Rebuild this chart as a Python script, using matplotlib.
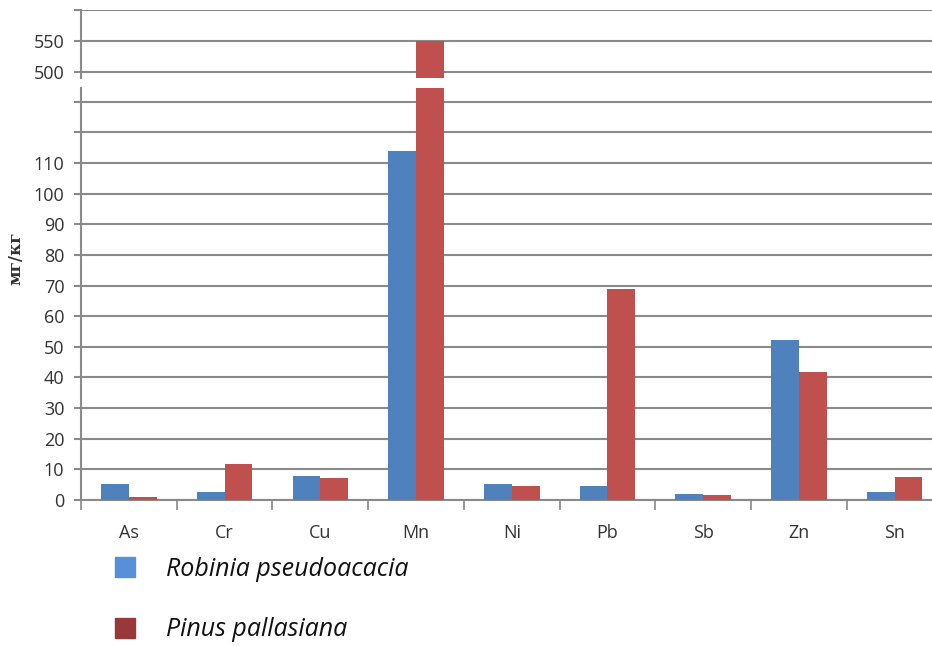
import numpy as np
import matplotlib.pyplot as plt
from matplotlib.patches import Rectangle

elements = ['As', 'Cr', 'Cu', 'Mn', 'Ni', 'Pb', 'Sb', 'Zn', 'Sn']
robinia = [5.2, 2.6, 7.8, 114, 5.2, 4.6, 2.0, 52.2, 2.6]
pinus = [1.0, 11.7, 7.2, 550, 4.6, 69, 1.5, 41.8, 7.5]
series_names = ['Robinia pseudoacacia', 'Pinus pallasiana']

plt.rcParams['font.family'] = ['Open Sans', 'DejaVu Sans']

grid_c = '#8a8a8a'
txt_c = '#333333'
blue = '#4F81BD'
red = '#C0504D'

fig = plt.figure(figsize=(9.32, 6.46), dpi=100)
W, H = 932, 646
left = 81 / W
ax_top = fig.add_axes([left, 1 - 78 / H, 1 - left, 68 / H])
ax = fig.add_axes([left, 1 - 500 / H, 1 - left, 412 / H])

x = np.arange(len(elements))
bw = 0.29
for a in (ax, ax_top):
    a.bar(x - bw / 2, robinia, bw, color=blue, zorder=3)
    a.bar(x + bw / 2, pinus, bw, color=red, zorder=3)
    for s in ['top', 'right']:
        a.spines[s].set_visible(False)
    a.spines['left'].set_color(grid_c)
    a.spines['left'].set_linewidth(1.5)
    a.grid(axis='y', color=grid_c, linewidth=1.5, zorder=0)
    a.tick_params(axis='y', colors=grid_c, labelcolor=txt_c, labelsize=13,
                  length=5, width=1.5, pad=7)

# lower part
ax.set_ylim(0, 134.5)
yt = np.arange(0, 140, 10)
ax.set_yticks(yt)
ax.set_yticklabels([str(v) if v <= 110 else '' for v in yt])
ax.spines['bottom'].set_color(grid_c)
ax.spines['bottom'].set_linewidth(1.5)
ax.set_xticks(x)
ax.set_xticklabels(elements)
ax.tick_params(axis='x', length=0, labelsize=13, labelcolor=txt_c, pad=17)
ax.set_xticks(np.arange(-0.5, 8, 1), minor=True)
ax.tick_params(axis='x', which='minor', length=7, width=1.2, colors=grid_c)

# upper part
ax_top.set_ylim(490, 600)
ax_top.set_yticks([500, 550, 600])
ax_top.set_yticklabels(['500', '550', ''])
ax_top.spines['bottom'].set_visible(False)
ax_top.set_xticks([])

for a in (ax, ax_top):
    a.set_xlim(-0.5, 8.39)

fig.text(16 / W, 1 - 258 / H, 'мг/кг', rotation=90, ha='center', va='center',
         fontsize=12, fontweight='bold', family='DejaVu Serif', color=txt_c)

# legend drawn by hand
leg_cols = ['#5590D8', '#993838']
for i, (name, c) in enumerate(zip(series_names, leg_cols)):
    yc = 567 + i * 61
    fig.add_artist(Rectangle((115 / W, 1 - (yc + 10) / H), 20 / W, 20 / H,
                             transform=fig.transFigure, color=c))
    fig.text(166 / W, 1 - (yc + 2) / H, name, ha='left', va='center',
             fontsize=18, style='italic', color='#111111')

fig.savefig('out.png', dpi=100)
